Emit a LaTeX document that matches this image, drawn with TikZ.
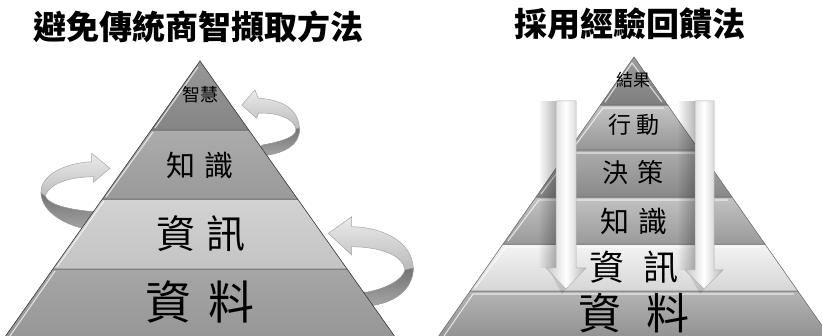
\documentclass[tikz,border=0pt]{standalone}
\usepackage{fontspec}
\newfontfamily\cjk{Noto Sans CJK TC}
\usetikzlibrary{fadings}
\tikzfading[name=fadeleft, left color=transparent!100, right color=transparent!0]
\definecolor{lA}{HTML}{979797}\definecolor{lAb}{HTML}{858585}
\definecolor{lB}{HTML}{ABABAB}\definecolor{lBb}{HTML}{9A9A9A}
\definecolor{lC}{HTML}{D2D2D2}\definecolor{lCb}{HTML}{C4C4C4}
\definecolor{lD}{HTML}{A6A6A6}\definecolor{lDb}{HTML}{979797}
\definecolor{rA}{HTML}{9C9C9C}\definecolor{rAb}{HTML}{7E7E7E}
\definecolor{rB}{HTML}{C4C4C4}\definecolor{rBb}{HTML}{969696}
\definecolor{rC}{HTML}{ADADAD}\definecolor{rCb}{HTML}{888888}
\definecolor{rD}{HTML}{C2C2C2}\definecolor{rDb}{HTML}{9A9A9A}
\definecolor{rE}{HTML}{F4F4F4}\definecolor{rEb}{HTML}{D6D6D6}
\definecolor{rF}{HTML}{B4B4B4}\definecolor{rFb}{HTML}{939393}
\tikzset{
  lab/.style={inner sep=0pt, text=black},
  edgeline/.style={draw=black!75, line width=0.6pt},
  sepline/.style={draw=black!50, line width=0.8pt},
  bevel/.style={draw=white, line width=1.1pt, opacity=0.7},
  ribbon/.style={draw=black!35, line width=0.5pt, top color=black!8, bottom color=black!40},
  ribbonside/.style={draw=black!40, line width=0.5pt, top color=black!55, bottom color=black!35},
  downarrow/.style={draw=black!30, line width=0.5pt, left color=black!22, right color=black!28, middle color=white},
  shadowstrip/.style={fill=black, path fading=fadeleft, fill opacity=0.28},
}
\begin{document}
\begin{tikzpicture}[x=1pt,y=-1pt]
\useasboundingbox (0,0) rectangle (822,336);
\clip (0,0) rectangle (822,336);
\fill[white] (0,0) rectangle (822,336);

% ---------- curved ribbon arrows (behind left pyramid) ----------
% arrow 1 (top right)
\path[ribbon] (241.7,105) -- (255,90) -- (258.3,98.3)
  .. controls (275,99) and (298,105) .. (299.5,128)
  .. controls (300,145) and (285,153) .. (262,156) -- (258,148) -- (263,145)
  .. controls (285,141) and (297,136) .. (296,129)
  .. controls (294,118) and (275,112) .. (258.3,113.3) -- (256.7,118.3) -- cycle;
\path[ribbonside] (296,129) .. controls (297,136) and (285,141) .. (263,145) -- (258,148) -- (262,156)
  .. controls (285,153) and (300,145) .. (299.5,128) -- cycle;
% arrow 2 (left)
\path[ribbon] (110,168.3) -- (91.7,153.3) -- (91.7,161.7)
  .. controls (65,163) and (40,175) .. (41,193)
  .. controls (42,212) and (65,227) .. (98,231) -- (104,212) -- (90,211.5)
  .. controls (65,209) and (48,204) .. (45,196)
  .. controls (50,183) and (70,177) .. (93.3,176.7) -- (93.3,182.3) -- cycle;
\path[ribbonside] (45,196) .. controls (48,204) and (65,209) .. (90,211.5) -- (104,212) -- (98,231)
  .. controls (65,227) and (42,212) .. (41,193) -- cycle;
% arrow 3 (bottom right)
\path[ribbon] (328.3,233.3) -- (351.7,216.7) -- (351.7,226.7)
  .. controls (380,227) and (412,240) .. (413.3,268)
  .. controls (413,292) and (390,305) .. (365,306) -- (360,292) -- (366.7,292.3)
  .. controls (385,289) and (403,280) .. (405,270)
  .. controls (403,255) and (380,247) .. (351.7,246.7) -- (351.7,255) -- cycle;
\path[ribbonside] (405,270) .. controls (403,280) and (385,289) .. (366.7,292.3) -- (360,292) -- (365,306)
  .. controls (390,305) and (413,292) .. (413.3,268) -- cycle;

% ---------- left pyramid ----------
\fill[top color=lA, bottom color=lAb] (200,61) -- (248.8,130) -- (151.2,130) -- cycle;
\fill[top color=lB, bottom color=lBb] (151.2,130) -- (248.8,130) -- (297.6,199) -- (102.4,199) -- cycle;
\fill[top color=lC, bottom color=lCb] (102.4,199) -- (297.6,199) -- (347.1,269) -- (52.9,269) -- cycle;
\fill[top color=lD, bottom color=lDb] (52.9,269) -- (347.1,269) -- (394.4,336) -- (5.6,336) -- cycle;
\draw[bevel] (155,128) -- (198,67);
\draw[bevel] (106,197) -- (153,132);
\draw[bevel] (57,267) -- (104,201);
\draw[bevel] (10,336) -- (55,271);
\draw[sepline] (151.2,130) -- (248.8,130);
\draw[sepline] (102.4,199) -- (297.6,199);
\draw[sepline] (52.9,269) -- (347.1,269);
\draw[edgeline] (5.6,336) -- (200,61) -- (394.4,336);

% ---------- right pyramid ----------
\fill[top color=rA, bottom color=rAb] (634,57) -- (667.6,105) -- (600.4,105) -- cycle;
\fill[top color=rB, bottom color=rBb] (600.4,105) -- (667.6,105) -- (699.1,150) -- (568.9,150) -- cycle;
\fill[top color=rC, bottom color=rCb] (568.9,150) -- (699.1,150) -- (732,197) -- (536,197) -- cycle;
\fill[top color=rD, bottom color=rDb] (536,197) -- (732,197) -- (764.9,244) -- (503.1,244) -- cycle;
\fill[top color=rE, bottom color=rEb] (503.1,244) -- (764.9,244) -- (797.8,291) -- (470.2,291) -- cycle;
\fill[top color=rF, bottom color=rFb] (470.2,291) -- (797.8,291) -- (829.3,336) -- (438.7,336) -- cycle;
\draw[bevel] (605,102) -- (632,63) -- (662,102);
\draw[bevel] (574,147) -- (603,108) -- (664,108);
\draw[bevel] (541,194) -- (572,153) -- (696,153);
\draw[bevel] (508,241) -- (539,200) -- (728,200);
\draw[bevel] (475,288) -- (506,247) -- (761,247);
\draw[bevel] (444,336) -- (473,294) -- (794,294);
\draw[draw=black!45, line width=0.7pt] (600.4,105) -- (667.6,105) (568.9,150) -- (699.1,150)
  (536,197) -- (732,197) (503.1,244) -- (764.9,244) (470.2,291) -- (797.8,291);
\draw[draw=black!55, line width=0.5pt] (438.7,336) -- (634,57) -- (829.3,336);

% ---------- vertical arrows ----------
\fill[shadowstrip] (538,101) rectangle (556,268);
\fill[shadowstrip] (677,101) rectangle (695,270);
\fill[black, opacity=0.10] (550,272) -- (580,272) -- (562,294) -- cycle;
\fill[black, opacity=0.10] (689,274) -- (717,274) -- (700,294) -- cycle;
\path[downarrow] (556,101) -- (576,101) -- (576,268) -- (586,268) -- (566,289) -- (546,268) -- (556,268) -- cycle;
\path[downarrow] (695,101) -- (714,101) -- (714,270) -- (723,270) -- (704,289) -- (685,270) -- (695,270) -- cycle;

% ---------- titles ----------
\node[lab, font=\cjk\bfseries\fontsize{33}{33}\selectfont] (t1) at (199,27) {避免傳統商智擷取方法};
\node[lab, font=\cjk\bfseries\fontsize{33}{33}\selectfont] (t2) at (630,23.5) {採用經驗回饋法};

% ---------- left labels ----------
\node[lab, font=\cjk\fontsize{18}{18}\selectfont] (l1) at (200,95) {智慧};
\node[lab, font=\cjk\fontsize{29}{29}\selectfont] (l2) at (200,165) {知\hspace{9pt}識};
\node[lab, font=\cjk\fontsize{39}{39}\selectfont] (l3) at (201,234) {資\hspace{12pt}訊};
\node[lab, font=\cjk\fontsize{46}{46}\selectfont] (l4) at (200,302) {資\hspace{17pt}料};

% ---------- right labels ----------
\node[lab, font=\cjk\fontsize{17}{17}\selectfont] (r1) at (633,80) {結果};
\node[lab, font=\cjk\fontsize{23}{23}\selectfont] (r2) at (634,125) {行\hspace{5pt}動};
\node[lab, font=\cjk\fontsize{26}{26}\selectfont] (r3) at (633,172.5) {決\hspace{9pt}策};
\node[lab, font=\cjk\fontsize{29}{29}\selectfont] (r4) at (634,221.5) {知\hspace{10pt}識};
\node[lab, font=\cjk\fontsize{35}{35}\selectfont] (r5) at (634,267) {資\hspace{19pt}訊};
\node[lab, font=\cjk\fontsize{43}{43}\selectfont] (r6) at (634,313) {資\hspace{26pt}料};
\end{tikzpicture}
\end{document}
